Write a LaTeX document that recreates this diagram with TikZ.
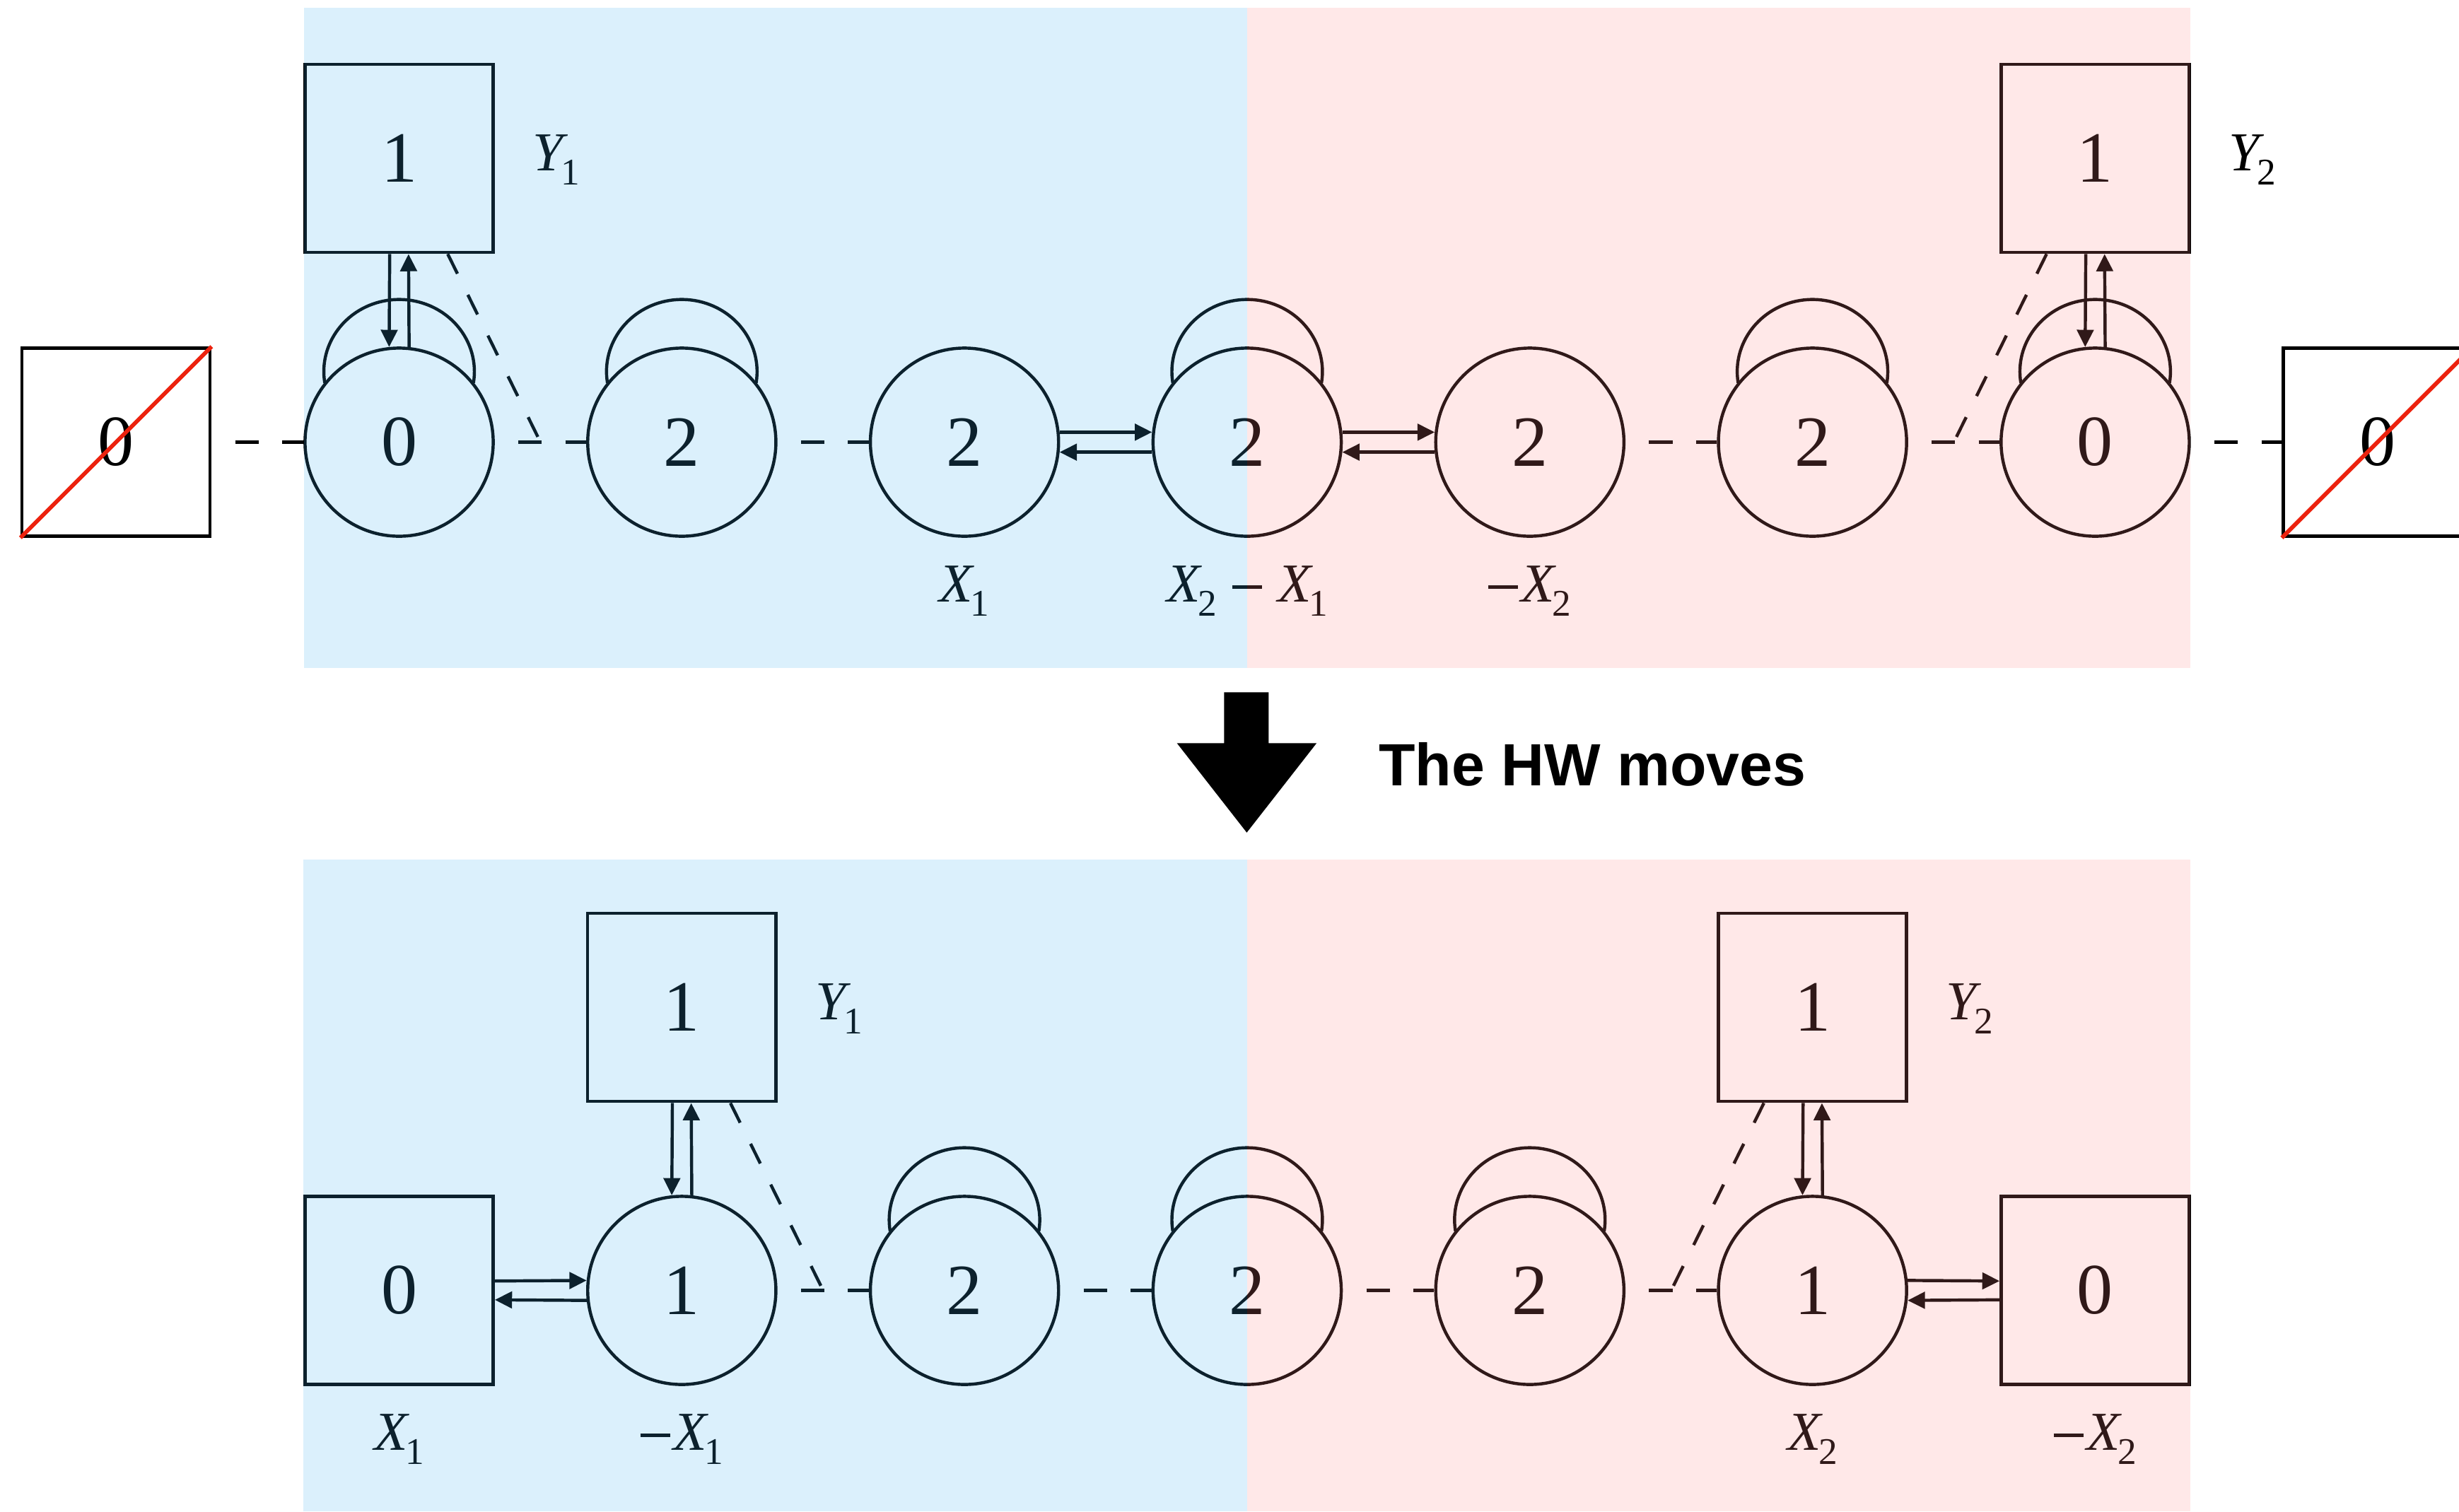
\documentclass[tikz,border=0pt]{standalone}
\usepackage{fontspec}
\setmainfont{Liberation Serif}
\newfontfamily\headfont{Liberation Sans}
\usetikzlibrary{arrows.meta,calc}

\definecolor{tintblue}{RGB}{65,176,244}
\definecolor{tintpink}{RGB}{255,133,133}
\definecolor{crossred}{RGB}{236,34,14}

% italic symbol with a lowered index
\newcommand\lbl[2]{{\itshape #1}\kern-1.5pt\raisebox{-9pt}{\fontsize{24}{24}\selectfont #2}}
% minus sign drawn as a bar on the maths axis
\newcommand\mns{\rule[8.5pt]{19pt}{2.2pt}}
% self-loop sitting on top of a gauge node
\newcommand\selfloop[1]{\draw[edge] ($(#1.center)+(0,45)$) ++(189:48pt and 46pt)
  arc[start angle=189,end angle=-9,x radius=48pt,y radius=46pt];}

\tikzset{
  edge/.style={line width=2pt},
  circ/.style={circle, draw, line width=2pt, minimum size=120pt, inner sep=0pt,
    font=\fontsize{46}{46}\selectfont},
  sqr/.style={rectangle, draw, line width=2pt, minimum size=120pt, inner sep=0pt,
    font=\fontsize{46}{46}\selectfont},
  hdash/.style={line width=2pt, dash pattern=on 15pt off 15pt, dash phase=15pt},
  ddash/.style={line width=2pt, dash pattern=on 14pt off 15pt},
  arr/.style={line width=2pt, -{Triangle[length=11pt,width=10.5pt]}},
  lab/.style={font=\fontsize{35}{35}\selectfont, inner sep=0pt},
  cross/.style={crossred, line width=2.6pt},
}

\begin{document}
\begin{tikzpicture}[x=1pt,y=1pt]
\useasboundingbox (0,0) rectangle (1568,-964);
\clip (0,0) rectangle (1568,-964);
\fill[white] (0,0) rectangle (1568,-964);

% ---------------- upper quiver ----------------
\node[sqr]  (xL)  at (74,-282)     {0};
\node[circ] (c0L) at (254.5,-282)  {0};
\node[circ] (t2a) at (434.75,-282) {2};
\node[circ] (t2b) at (615,-282)    {2};
\node[circ] (t2c) at (795.25,-282) {2};
\node[circ] (t2d) at (975.5,-282)  {2};
\node[circ] (t2e) at (1155.75,-282){2};
\node[circ] (c0R) at (1336,-282)   {0};
\node[sqr]  (xR)  at (1516,-282)   {0};
\node[sqr]  (yL)  at (254.5,-101)  {1};
\node[sqr]  (yR)  at (1336,-101)   {1};

\draw[cross] (xL.south west) -- (xL.north east);
\draw[cross] (xR.south west) -- (xR.north east);

\selfloop{c0L}
\selfloop{t2a}
\selfloop{t2c}
\selfloop{t2e}
\selfloop{c0R}

\draw[hdash] (xL) -- (c0L);
\draw[hdash] (c0L) -- (t2a);
\draw[hdash] (t2a) -- (t2b);
\draw[hdash] (t2d) -- (t2e);
\draw[hdash] (t2e) -- (c0R);
\draw[hdash] (c0R) -- (xR);

\draw[arr] (t2b.6) -- (t2c.174);
\draw[arr] (t2c.186) -- (t2b.-6);
\draw[arr] (t2c.6) -- (t2d.174);
\draw[arr] (t2d.186) -- (t2c.-6);

\draw[arr] ($(yL.south)+(-6,0)$) -- (c0L.96);
\draw[arr] (c0L.84) -- ($(yL.south)+(6,0)$);
\draw[arr] ($(yR.south)+(-6,0)$) -- (c0R.96);
\draw[arr] (c0R.84) -- ($(yR.south)+(6,0)$);

\coordinate (m1) at ($(c0L.east)!0.5!(t2a.west)$);
\coordinate (m2) at ($(t2e.east)!0.5!(c0R.west)$);
\draw[ddash] ($(yL.south)+(31,0)$) -- (m1);
\draw[ddash] ($(yR.south)+(-31,0)$) -- (m2);

\node[lab, anchor=base west] (lY1) at ($(yL.east)+(24,-8)$) {\lbl{Y}{1}};
\node[lab, anchor=base west] (lY2) at ($(yR.east)+(24,-8)$) {\lbl{Y}{2}};
\node[lab, anchor=base] (lX1)  at ($(t2b.center)+(0,-102)$) {\lbl{X}{1}};
\node[lab, anchor=base] (lX21) at ($(t2c.center)+(0,-102)$) {\lbl{X}{2}\hspace{10pt}\mns\hspace{10pt}\lbl{X}{1}};
\node[lab, anchor=base] (lmX2) at ($(t2d.center)+(0,-102)$) {\mns\kern2pt\lbl{X}{2}};

% ---------------- transition ----------------
\fill (780.5,-441.5) -- (809,-441.5) -- (809,-474) -- (839.5,-474) -- (795,-531)
  -- (750.5,-474) -- (780.5,-474) -- cycle;
\node[font=\headfont\bfseries\fontsize{38}{38}\selectfont, anchor=base west, inner sep=0pt]
  (hw) at (879,-501.2) {The HW moves};

% ---------------- lower quiver ----------------
\node[sqr]  (sL)  at (254.5,-823)   {0};
\node[circ] (b1a) at (434.75,-823)  {1};
\node[circ] (b2a) at (615,-823)     {2};
\node[circ] (b2b) at (795.25,-823)  {2};
\node[circ] (b2c) at (975.5,-823)   {2};
\node[circ] (b1b) at (1155.75,-823) {1};
\node[sqr]  (sR)  at (1336,-823)    {0};
\node[sqr]  (uL)  at (434.75,-642.5) {1};
\node[sqr]  (uR)  at (1155.75,-642.5){1};

\selfloop{b2a}
\selfloop{b2b}
\selfloop{b2c}

\draw[hdash] (b1a) -- (b2a);
\draw[hdash] (b2a) -- (b2b);
\draw[hdash] (b2b) -- (b2c);
\draw[hdash] (b2c) -- (b1b);

\draw[arr] ($(sL.east)+(0,6)$) -- (b1a.174);
\draw[arr] (b1a.186) -- ($(sL.east)+(0,-6)$);
\draw[arr] (b1b.6) -- ($(sR.west)+(0,6)$);
\draw[arr] ($(sR.west)+(0,-6)$) -- (b1b.-6);

\draw[arr] ($(uL.south)+(-6,0)$) -- (b1a.96);
\draw[arr] (b1a.84) -- ($(uL.south)+(6,0)$);
\draw[arr] ($(uR.south)+(-6,0)$) -- (b1b.96);
\draw[arr] (b1b.84) -- ($(uR.south)+(6,0)$);

\coordinate (m3) at ($(b1a.east)!0.5!(b2a.west)$);
\coordinate (m4) at ($(b2c.east)!0.5!(b1b.west)$);
\draw[ddash] ($(uL.south)+(31,0)$) -- (m3);
\draw[ddash] ($(uR.south)+(-31,0)$) -- (m4);

\node[lab, anchor=base west] (lY1b) at ($(uL.east)+(24,-8)$) {\lbl{Y}{1}};
\node[lab, anchor=base west] (lY2b) at ($(uR.east)+(24,-8)$) {\lbl{Y}{2}};
\node[lab, anchor=base] (lX1b)  at ($(sL.center)+(0,-102)$)  {\lbl{X}{1}};
\node[lab, anchor=base] (lmX1b) at ($(b1a.center)+(0,-102)$) {\mns\kern2pt\lbl{X}{1}};
\node[lab, anchor=base] (lX2b)  at ($(b1b.center)+(0,-102)$) {\lbl{X}{2}};
\node[lab, anchor=base] (lmX2b) at ($(sR.center)+(0,-102)$)  {\mns\kern2pt\lbl{X}{2}};

% ---------------- tinted halves laid over the drawing ----------------
\fill[tintblue, fill opacity=0.19] (194,-5) rectangle (795.25,-426);
\fill[tintpink, fill opacity=0.19] (795.25,-5) rectangle (1396.5,-426);
\fill[tintblue, fill opacity=0.19] (193.5,-548) rectangle (795.25,-964);
\fill[tintpink, fill opacity=0.19] (795.25,-548) rectangle (1396.5,-964);
\end{tikzpicture}
\end{document}
